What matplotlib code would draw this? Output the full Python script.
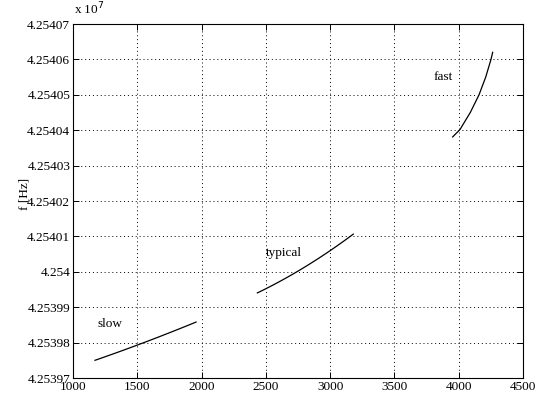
import numpy as np
import matplotlib
matplotlib.use("Agg")
import matplotlib.pyplot as plt
from matplotlib.ticker import FuncFormatter

# curves (speed, frequency in Hz)
slow_x = [1171, 1500, 1957]
slow_y = [42539750, 42539793, 42539858]
typical_x = [2434, 2752, 3000, 3180]
typical_y = [42539941, 42540000, 42540063, 42540105]
fast_x = [3953, 4010, 4090, 4158, 4210, 4251, 4264]
fast_y = [42540381, 42540402, 42540450, 42540500, 42540550, 42540600, 42540620]

labels = ["slow", "typical", "fast"]
label_x = [1187, 2498, 3807]
label_y = [42539853, 42540052, 42540551]

plt.rcParams["font.family"] = ["Liberation Serif", "DejaVu Serif"]
plt.rcParams["font.size"] = 9.5

fig = plt.figure(figsize=(5.49, 3.96), dpi=100)
ax = fig.add_axes([73 / 549, 18 / 396, 450 / 549, 354 / 396])


def smooth(xs, ys):
    # quadratic through the read points
    xs = np.array(xs, float)
    ys = np.array(ys, float)
    c = np.polyfit(xs - xs[0], ys - ys[0], 2)
    xx = np.linspace(xs[0], xs[-1], 60)
    return xx, np.polyval(c, xx - xs[0]) + ys[0]


for xs, ys in [(slow_x, slow_y), (typical_x, typical_y)]:
    xx, yy = smooth(xs, ys)
    ax.plot(xx, yy, color="black", lw=0.9)
# fast one bends too much for a quadratic, draw it through the points
ax.plot(fast_x, fast_y, color="black", lw=0.9)

for t, x, y in zip(labels, label_x, label_y):
    ax.text(x, y, t, va="center", ha="left")

ax.set_xlim(1000, 4500)
ax.set_ylim(42539700, 42540700)
ax.set_xticks(np.arange(1000, 4501, 500))
ax.set_yticks(np.arange(42539700, 42540701, 100))
ax.yaxis.set_major_formatter(FuncFormatter(lambda v, p: "%g" % round(v / 1e7, 6)))
ax.grid(True, linestyle=(0, (1, 3)), color="black", lw=0.7)
ax.tick_params(direction="in", top=True, right=True, length=4, width=0.7, pad=2)
for s in ax.spines.values():
    s.set_linewidth(0.8)
ax.set_ylabel("f [Hz]")
ax.yaxis.set_label_coords(-0.095, 0.52)
fig.text(74 / 549, 1 - 17 / 396, r"x 10$^{7}$", ha="left", va="bottom")

fig.savefig("out.png", dpi=100)
